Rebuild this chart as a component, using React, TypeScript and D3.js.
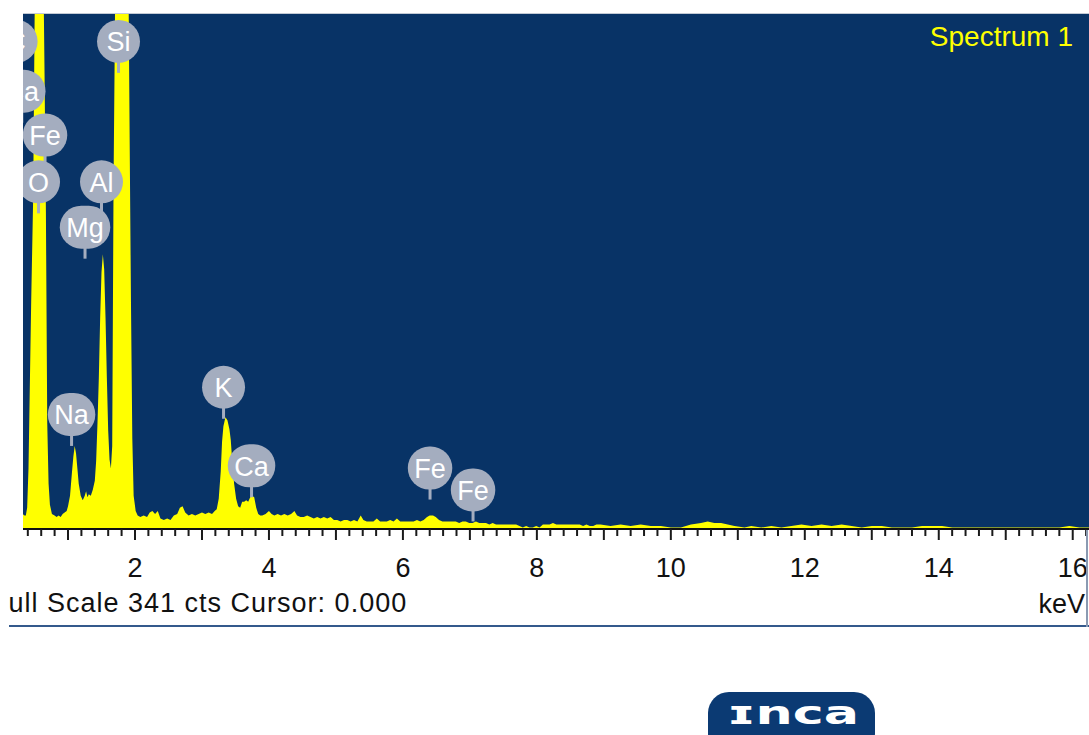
import React from 'react';
import * as d3 from 'd3';

// EDS spectrum: channel energies (keV) and counts
const energyKeV = [
  0.32, 0.35, 0.37, 0.39, 0.41, 0.43, 0.45, 0.48, 0.5, 0.52, 0.55, 0.58, 0.61, 0.63, 0.65, 0.67, 0.69, 0.71, 0.73, 0.76,
  0.8, 0.83, 0.86, 0.89, 0.92, 0.95, 0.98,
  1.0, 1.03, 1.06, 1.08, 1.1, 1.12, 1.14, 1.16, 1.19, 1.22, 1.25, 1.27, 1.29, 1.31, 1.34, 1.37,
  1.4, 1.42, 1.44, 1.46, 1.48, 1.5, 1.52, 1.54, 1.56, 1.58, 1.6, 1.62, 1.64, 1.66,
  1.68, 1.7, 1.72, 1.75, 1.78, 1.81, 1.84, 1.87, 1.9, 1.92, 1.94, 1.96, 1.98, 2.01, 2.04,
  2.08, 2.13, 2.18, 2.22, 2.26, 2.3, 2.34, 2.38, 2.43, 2.48, 2.53, 2.58, 2.63, 2.67, 2.71, 2.75, 2.8, 2.85, 2.9, 2.95,
  3.0, 3.05, 3.1, 3.15, 3.19,
  3.22, 3.25, 3.28, 3.3, 3.32, 3.35, 3.38, 3.41, 3.43, 3.45, 3.48, 3.51, 3.54, 3.57,
  3.6, 3.63, 3.66, 3.69, 3.72, 3.75, 3.78, 3.81, 3.84, 3.87,
  3.9, 3.95, 4.0, 4.04, 4.08, 4.13, 4.18, 4.23, 4.28, 4.33, 4.38, 4.42, 4.47, 4.52, 4.57, 4.62, 4.67, 4.72, 4.77, 4.82,
  4.87, 4.92, 4.97, 5.02, 5.07, 5.12, 5.17, 5.22, 5.27, 5.32, 5.37, 5.41, 5.46, 5.51, 5.56, 5.61, 5.66, 5.71, 5.76, 5.81,
  5.86, 5.91, 5.96, 6.01, 6.06, 6.11, 6.16, 6.21, 6.26, 6.31, 6.36, 6.4, 6.45, 6.49, 6.54, 6.59, 6.64, 6.69, 6.74, 6.79,
  6.84, 6.89, 6.94, 6.99, 7.04, 7.09, 7.14, 7.19, 7.24, 7.29, 7.34, 7.39, 7.44, 7.49, 7.54, 7.59, 7.64, 7.69, 7.74, 7.79,
  7.84, 7.89, 7.94, 7.99, 8.04, 8.09, 8.14, 8.19, 8.24, 8.29, 8.34, 8.39, 8.44, 8.49, 8.54, 8.59, 8.64, 8.69, 8.74, 8.79,
  8.84, 8.89, 8.95, 9.1, 9.25, 9.4, 9.55, 9.7, 9.85, 10.0, 10.15, 10.3, 10.45, 10.55, 10.65, 10.75, 10.85, 10.95,
  11.1, 11.2, 11.35, 11.5, 11.65, 11.8, 11.95, 12.1, 12.25, 12.4, 12.55, 12.7, 12.85, 13.0, 13.15, 13.3, 13.45, 13.6,
  13.75, 13.9, 14.05, 14.2, 14.4, 14.6, 14.8, 15.0, 15.2, 15.4, 15.6, 15.8, 15.95, 16.1, 16.25,
];

const counts = [
  10, 9, 9, 14, 40, 95, 150, 220, 330, 430, 500, 510, 470, 380, 300, 210, 70, 30, 16, 10,
  9, 8, 9, 8, 10, 11, 12,
  15, 22, 38, 48, 55, 50, 40, 30, 22, 19, 22, 25, 21, 23, 22, 26,
  32, 45, 70, 100, 140, 170, 182, 172, 140, 100, 65, 46, 40, 55,
  230, 330, 500, 750, 900, 920, 820, 600, 380, 260, 150, 60, 22, 12, 9,
  8, 9, 8, 11, 12, 10, 12, 7, 6, 7, 6, 9, 10, 14, 15, 11, 9, 10, 9, 10,
  11, 10, 11, 10, 12,
  13, 20, 38, 58, 68, 74, 72, 66, 59, 46, 30, 20, 15, 14,
  18, 18, 19, 18, 21, 22, 21, 14, 10, 9,
  9, 10, 12, 10, 9, 10, 9, 10, 9, 10, 12, 9, 8, 8, 9, 8, 7, 8, 7, 8,
  7, 8, 6, 6, 5, 6, 6, 5, 6, 5, 9, 6, 5, 5, 5, 7, 5, 5, 5, 6,
  5, 7, 5, 5, 5, 5, 5, 6, 5, 6, 8, 9, 9, 8, 6, 5, 5, 5, 5, 5,
  4, 5, 5, 4, 4, 5, 4, 4, 4, 3, 4, 3, 3, 3, 3, 3, 3, 3, 2, 1,
  2, 1, 1, 2, 1, 3, 3, 3, 4, 3, 3, 3, 3, 3, 3, 3, 3, 2, 3, 2,
  2, 3, 3, 2, 3, 2, 3, 2, 2, 1, 1, 3, 4, 5, 4, 4, 3, 2,
  1, 2, 1, 2, 1, 2, 3, 2, 3, 2, 3, 2, 1, 2, 2, 1, 1, 1,
  2, 2, 2, 1, 1, 1, 1, 1, 1, 1, 1, 1, 2, 1, 1,
];

// Element line tags: symbol, line energy (keV), count level the stem points to
const tagSymbols = ['C', 'Ca', 'Fe', 'O', 'Al', 'Mg', 'Si', 'Na', 'K', 'Ca', 'Fe', 'Fe'];
const tagEnergyKeV = [0.225, 0.31, 0.657, 0.56, 1.5, 1.254, 1.754, 1.053, 3.322, 3.74, 6.405, 7.047];
const tagAnchorCounts = [302, 269, 240, 209, 209, 179, 302, 55, 73, 21, 19.5, 5];

const axisTickLabels = [2, 4, 6, 8, 10, 12, 14, 16];
const fullScaleCounts = 341;
const cursorKeV = 0;
const spectrumName = 'Spectrum 1';

const W = 1089;
const H = 735;
const plotLeft = 23;
const plotRight = 1089;
const plotTop = 14;
const axisY = 529;

const NAVY = '#083366';
const YELLOW = '#ffff00';
const TAG_FILL = '#a4adbf';
const FONT = '"Liberation Sans", Arial, sans-serif';

let measureCtx: CanvasRenderingContext2D | null = null;
function textWidth(s: string, font: string): number {
  if (!measureCtx) measureCtx = document.createElement('canvas').getContext('2d');
  if (!measureCtx) return s.length * 14;
  measureCtx.font = font;
  return measureCtx.measureText(s).width;
}

export default function App() {
  const x = d3.scaleLinear().domain([0.328, 16.243]).range([plotLeft, plotRight]);
  const y = d3.scaleLinear().domain([0, fullScaleCounts]).range([axisY, plotTop]);

  const points = energyKeV.map((e, i) => [e, counts[i]] as [number, number]);
  const area = d3
    .area<[number, number]>()
    .x((d) => x(d[0]))
    .y0(axisY)
    .y1((d) => y(d[1]))
    .curve(d3.curveLinear);

  const ticks = d3.range(2, 82).map((i) => ({ e: i * 0.2, major: i % 5 === 0 }));

  const tagFont = `27px ${FONT}`;
  const tags = tagSymbols.map((s, i) => {
    const cx = x(tagEnergyKeV[i]);
    const tip = y(tagAnchorCounts[i]);
    const bottom = tip - 10;
    const cy = bottom - 21.5;
    const w = Math.max(43, textWidth(s, tagFont) + 13);
    return { s, cx, cy, tip, bottom, w };
  });

  return (
    <svg
      width={W}
      height={H}
      viewBox={`0 0 ${W} ${H}`}
      style={{ position: 'absolute', left: 0, top: 0, display: 'block', background: '#ffffff' }}
    >
      <defs>
        <clipPath id="plot-clip">
          <rect x={plotLeft} y={plotTop} width={plotRight - plotLeft} height={axisY - plotTop} />
        </clipPath>
        <clipPath id="footer-clip">
          <rect x={9} y={530} width={W - 9} height={110} />
        </clipPath>
      </defs>

      {/* plot background */}
      <rect x={plotLeft} y={plotTop} width={plotRight - plotLeft} height={axisY - plotTop} fill={NAVY} />
      <line x1={plotLeft} x2={plotRight} y1={plotTop - 0.5} y2={plotTop - 0.5} stroke="#c3cad5" strokeWidth={1} />

      <g clipPath="url(#plot-clip)">
        <path d={area(points) || ''} fill={YELLOW} />
        {tags.map((t, i) => (
          <g key={i}>
            <rect x={t.cx - 1.5} y={t.bottom - 2} width={3} height={t.tip - t.bottom + 2} fill={TAG_FILL} />
            <rect x={t.cx - t.w / 2} y={t.cy - 21.5} width={t.w} height={43} rx={21.5} ry={21.5} fill={TAG_FILL} />
            <text
              x={t.cx}
              y={t.cy + 10}
              textAnchor="middle"
              fill="#ffffff"
              style={{ font: tagFont }}
            >
              {t.s}
            </text>
          </g>
        ))}
        <text x={1073} y={46} textAnchor="end" fill={YELLOW} style={{ font: `28px ${FONT}` }}>
          {spectrumName}
        </text>
      </g>

      {/* energy axis */}
      <line x1={plotLeft} x2={plotRight} y1={axisY} y2={axisY} stroke="#111111" strokeWidth={2} />
      {ticks.map((t, i) => (
        <line
          key={i}
          x1={x(t.e)}
          x2={x(t.e)}
          y1={axisY}
          y2={axisY + (t.major ? 11 : 7)}
          stroke="#1a1a1a"
          strokeWidth={2}
        />
      ))}
      {axisTickLabels.map((v) => (
        <text key={v} x={x(v)} y={577} textAnchor="middle" fill="#111111" style={{ font: `27px ${FONT}` }}>
          {v}
        </text>
      ))}

      {/* status line */}
      <g clipPath="url(#footer-clip)">
        <text x={-9} y={612} fill="#111111" style={{ font: `27px ${FONT}`, letterSpacing: '1px' }}>
          {`Full Scale ${fullScaleCounts} cts Cursor: ${cursorKeV.toFixed(3)}`}
        </text>
        <text x={1085} y={613} textAnchor="end" fill="#111111" style={{ font: `27px ${FONT}` }}>
          keV
        </text>
        <line x1={9} x2={W} y1={626} y2={626} stroke="#34598c" strokeWidth={2} />
        <line x1={1087} x2={1087} y1={axisY} y2={627} stroke="#8a9ab2" strokeWidth={2} />
      </g>

      {/* logo */}
      <g>
        <rect x={708} y={692} width={167} height={62} rx={21} ry={21} fill="#0b3a73" />
        <text
          x={727}
          y={724}
          textLength={132}
          lengthAdjust="spacingAndGlyphs"
          fill="#ffffff"
          style={{ font: `900 32px "DejaVu Sans", sans-serif` }}
        >
          ɪnca
        </text>
      </g>
    </svg>
  );
}
